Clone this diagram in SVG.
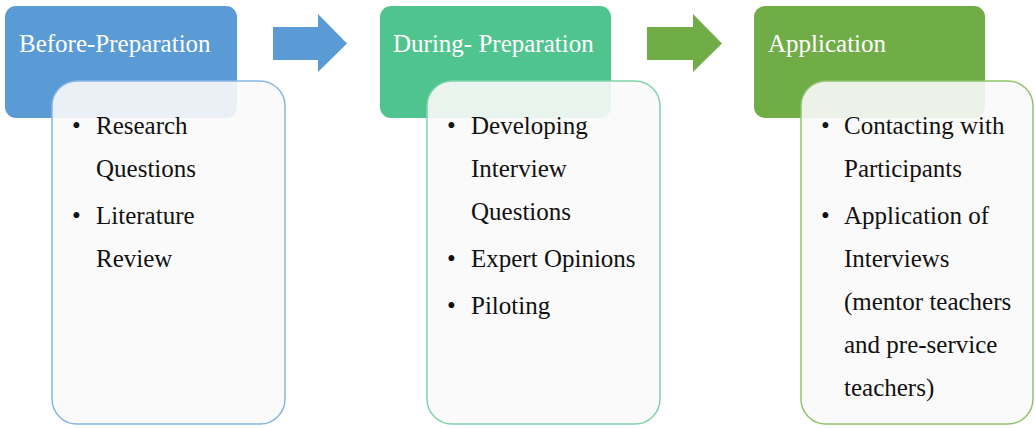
<svg xmlns="http://www.w3.org/2000/svg" width="1035" height="428" viewBox="0 0 1035 428">
<style>
.title{font-family:"Liberation Serif","Times New Roman",serif;font-size:25px;fill:#ffffff}
.body{font-family:"Liberation Serif","Times New Roman",serif;font-size:25px;fill:#111111}
.card{fill:#fafafa;fill-opacity:0.9;stroke-width:1.5}
</style>
<rect width="1035" height="428" fill="#ffffff"/>
<g id="connectors">
<polygon points="273,27 318,27 318,14 347,43.5 318,72 318,60 273,60" fill="#5b9bd5"/>
<polygon points="647,27 693,27 693,14 722,43.5 693,72 693,60 647,60" fill="#70ad47"/>
</g>
<g id="node-before">
<rect x="5" y="6" width="232" height="112" rx="11" fill="#5b9bd5"/>
<text class="title" x="19" y="52">Before-Preparation</text>
<rect class="card" x="52" y="81" width="233" height="343" rx="25" stroke="#86b6e3"/>
<text class="body" x="72" y="134">•</text>
<text class="body" x="96" y="134">Research</text>
<text class="body" x="96" y="177">Questions</text>
<text class="body" x="72" y="224">•</text>
<text class="body" x="96" y="224">Literature</text>
<text class="body" x="96" y="267">Review</text>
</g>
<g id="node-during">
<rect x="380" y="6" width="231" height="112" rx="11" fill="#50c48f"/>
<text class="title" x="393" y="52">During- Preparation</text>
<rect class="card" x="427" y="81" width="233" height="343" rx="25" stroke="#7fd3a9"/>
<text class="body" x="447" y="134">•</text>
<text class="body" x="471" y="134">Developing</text>
<text class="body" x="471" y="177">Interview</text>
<text class="body" x="471" y="220">Questions</text>
<text class="body" x="447" y="267">•</text>
<text class="body" x="471" y="267">Expert Opinions</text>
<text class="body" x="447" y="314">•</text>
<text class="body" x="471" y="314">Piloting</text>
</g>
<g id="node-application">
<rect x="754" y="6" width="231" height="112" rx="11" fill="#70ad47"/>
<text class="title" x="768" y="52">Application</text>
<rect class="card" x="801" y="81" width="232" height="343" rx="25" stroke="#8fc36e"/>
<text class="body" x="821" y="134">•</text>
<text class="body" x="844" y="134">Contacting with</text>
<text class="body" x="844" y="177">Participants</text>
<text class="body" x="821" y="224">•</text>
<text class="body" x="844" y="224">Application of</text>
<text class="body" x="844" y="267">Interviews</text>
<text class="body" x="844" y="310">(mentor teachers</text>
<text class="body" x="844" y="353">and pre-service</text>
<text class="body" x="844" y="396">teachers)</text>
</g>
</svg>
